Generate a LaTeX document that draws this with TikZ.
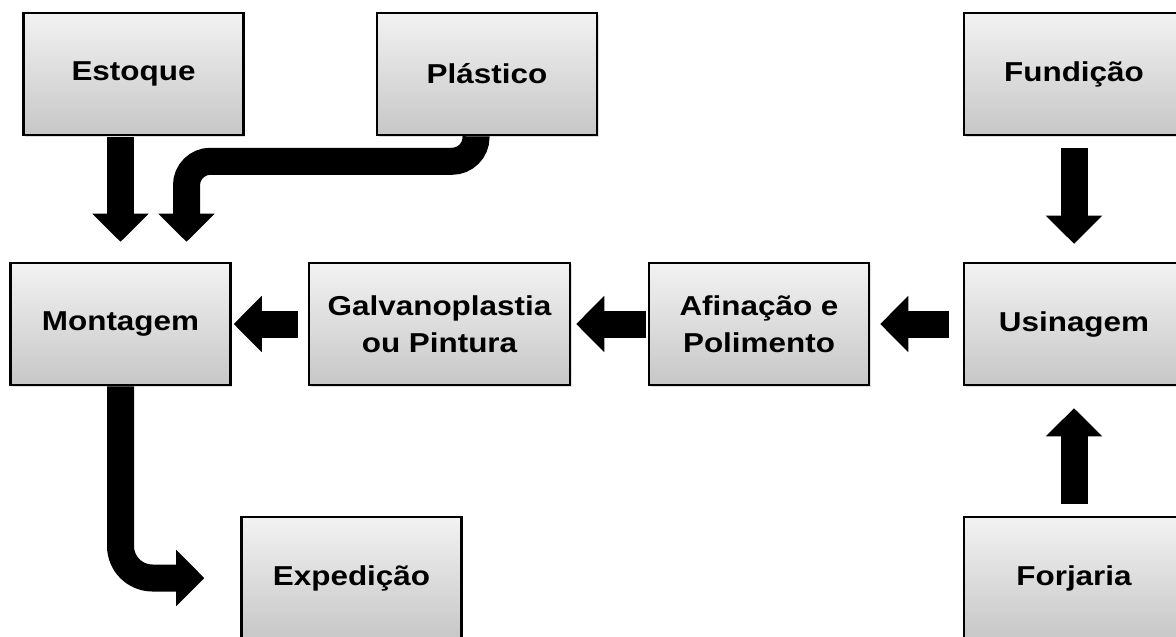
\documentclass[tikz,border=0pt]{standalone}
\usepackage{fontspec}
\setmainfont{Liberation Sans}[FakeStretch=1.15]
\usetikzlibrary{arrows.meta,shadows,calc}
\begin{document}
\begin{tikzpicture}[x=0.75pt,y=-0.75pt,
  box/.style={draw=black, line width=1.9pt, top color=black!5, bottom color=black!22,
    minimum width=165pt, minimum height=91.5pt, inner sep=0pt, align=center,
    font=\fontsize{20.5pt}{28pt}\selectfont\bfseries,
    drop shadow={shadow xshift=1.2pt, shadow yshift=-1.8pt, opacity=0.25}},
  flow/.style={black, line width=20.25pt, -{Triangle[length=21pt,width=42pt,line width=1pt]}}]
\useasboundingbox (0,0) rectangle (1176,636);
\fill[white] (0,0) rectangle (1176,636);

\node[box] (est)  at (133.5,74) {Estoque};
\node[box] (pla)  at (487,74)   {Plástico};
\node[box] (fund) at (1074,74)  {Fundição};
\node[box] (mon)  at (120.5,324) {Montagem};
\node[box, minimum width=195.75pt] (galv) at (439.5,324) {Galvanoplastia\\ou Pintura};
\node[box] (afi)  at (759,324)  {Afinação e\\Polimento};
\node[box] (usi)  at (1074,324) {Usinagem};
\node[box] (exp)  at (351.5,578) {Expedição};
\node[box] (forj) at (1074,578) {Forjaria};

\draw[flow, shorten <=0.75pt, shorten >=15pt] (est.south -| mon.north) -- (mon.north);
\coordinate (p1) at ($(pla.south)+(-11,0)$);
\coordinate (p2) at ($(mon.north)+(66,-20)$);
\draw[flow, rounded corners=18pt] (p1) -- ++(0,25) -| (p2);
\draw[flow, shorten <=7.5pt, shorten >=1.5pt] (galv.west) -- (mon.east);
\draw[flow, shorten <=1.5pt, shorten >=3.75pt] (afi.west) -- (galv.east);
\draw[flow, shorten <=10.5pt, shorten >=7.5pt] (usi.west) -- (afi.east);
\draw[flow, shorten <=9pt, shorten >=13.5pt] (fund.south) -- (usi.north);
\draw[flow, shorten <=9pt, shorten >=16.5pt] (forj.north) -- (usi.south);
\draw[flow, rounded corners=24pt, shorten >=27pt] (mon.south) |- (exp.west);
\end{tikzpicture}
\end{document}
